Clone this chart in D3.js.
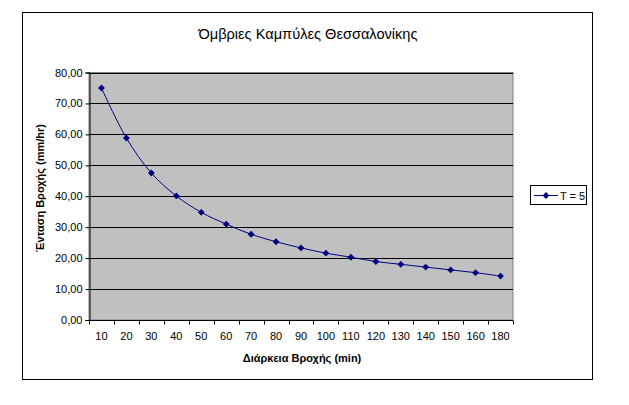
<!DOCTYPE html>
<html><head><meta charset="utf-8">
<script src="https://cdn.jsdelivr.net/npm/d3@7"></script>
<style>body{margin:0;background:#fff;} text{font-family:"Liberation Sans",Arial,sans-serif;}</style>
</head><body>
<svg id="c" width="629" height="405"></svg>
<script>
const title = "Όμβριες Καμπύλες Θεσσαλονίκης";
const xTitle = "Διάρκεια Βροχής (min)";
const yTitle = "Ένταση Βροχής (mm/hr)";
const seriesName = "T = 5";
const durations = ["10","20","30","40","50","60","70","80","90","100","110","120","130","140","150","160","180"];
const intensity = [75.0,58.8,47.5,40.1,34.8,31.0,27.7,25.3,23.3,21.6,20.3,18.9,18.0,17.1,16.2,15.3,14.2];
const yTicks = [0,10,20,30,40,50,60,70,80];

const svg = d3.select("#c");
svg.append("rect").attr("x",22.5).attr("y",12.5).attr("width",570).attr("height",367)
  .attr("fill","#fff").attr("stroke","#000").attr("stroke-width",1);

const L=89, R=513, T=72.5, B=320;
const x = d3.scaleBand().domain(durations).range([L,R]);
const y = d3.scaleLinear().domain([0,80]).range([B,T]);

svg.append("rect").attr("x",L).attr("y",T).attr("width",R-L).attr("height",B-T)
  .attr("fill","#c0c0c0").attr("stroke","#808080");

svg.append("g").selectAll("line").data(yTicks.filter(d=>d>0)).join("line")
  .attr("x1",L).attr("x2",R).attr("y1",d=>Math.round(y(d))+0.5).attr("y2",d=>Math.round(y(d))+0.5)
  .attr("stroke","#000");

const fmt = d=>d.toFixed(2).replace(".",",");
const ya = svg.append("g").attr("transform",`translate(${L+0.5},0)`)
  .call(d3.axisLeft(y).tickValues(yTicks).tickFormat(fmt).tickSize(4).tickPadding(3));
ya.select(".domain").attr("stroke","#000");
ya.selectAll("text").attr("font-size",11).attr("fill","#000");

// x axis with ticks at category boundaries
const xa = svg.append("g").attr("transform",`translate(0,${B+0.5})`);
xa.append("line").attr("x1",L).attr("x2",R).attr("stroke","#000");
const bounds = durations.map(d=>x(d)).concat([R]);
xa.selectAll("line.t").data(bounds).join("line").attr("class","t")
  .attr("x1",d=>Math.round(d)+0.5).attr("x2",d=>Math.round(d)+0.5).attr("y1",0).attr("y2",4).attr("stroke","#000");
xa.selectAll("text").data(durations).join("text")
  .attr("x",d=>x(d)+x.bandwidth()/2).attr("y",19.5).attr("text-anchor","middle")
  .attr("font-size",11).text(d=>d);

const line = d3.line().x((d,i)=>x(durations[i])+x.bandwidth()/2).y(d=>y(d)).curve(d3.curveCatmullRom.alpha(0.5));
svg.append("path").datum(intensity).attr("d",line).attr("fill","none").attr("stroke","#000080").attr("stroke-width",1);
const diamond = d3.symbol().type(d3.symbolDiamond2).size(30);
svg.append("g").selectAll("path").data(intensity).join("path")
  .attr("transform",(d,i)=>`translate(${x(durations[i])+x.bandwidth()/2},${y(d)})`)
  .attr("d",diamond).attr("fill","#000080");

svg.append("text").attr("x",308).attr("y",38.5).attr("text-anchor","middle").attr("font-size",14.6).text(title);
svg.append("text").attr("x",302).attr("y",362).attr("text-anchor","middle").attr("font-size",11).attr("font-weight","bold").text(xTitle);
svg.append("text").attr("transform","translate(44,188) rotate(-90)").attr("text-anchor","middle").attr("font-size",11).attr("font-weight","bold").text(yTitle);

// legend
const lg = svg.append("g");
lg.append("rect").attr("x",530.5).attr("y",185.5).attr("width",56).attr("height",19).attr("fill","#fff").attr("stroke","#000");
lg.append("line").attr("x1",534).attr("x2",558).attr("y1",195.5).attr("y2",195.5).attr("stroke","#000080");
lg.append("path").attr("transform","translate(546,195.5)").attr("d",diamond).attr("fill","#000080");
lg.append("text").attr("x",560).attr("y",199.5).attr("font-size",11).text(seriesName);
</script>
</body></html>
